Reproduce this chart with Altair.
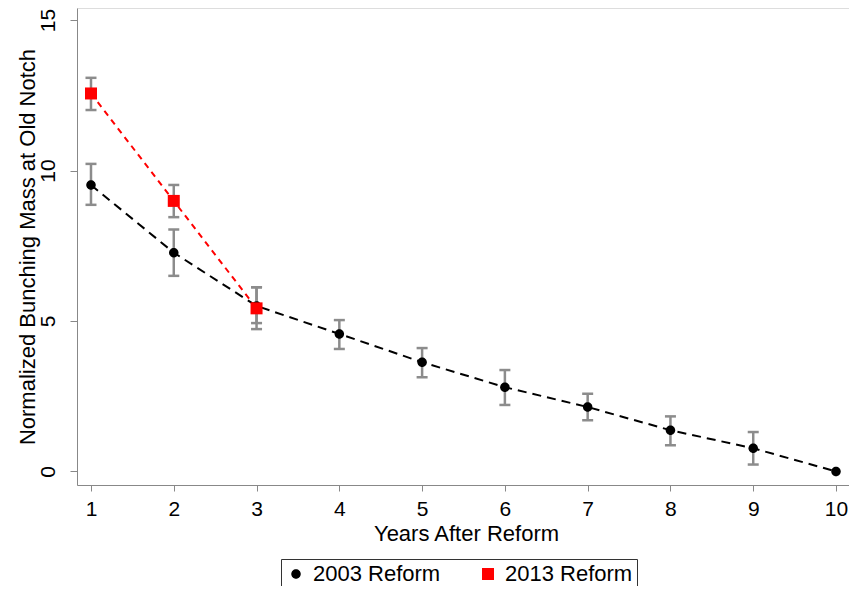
import altair as alt
import pandas as pd

# ---- data ----
years_2003 = [1, 2, 3, 4, 5, 6, 7, 8, 9, 10]
mass_2003 = [9.52, 7.27, 5.50, 4.57, 3.63, 2.80, 2.14, 1.37, 0.77, 0.00]
lo_2003 = [8.86, 6.50, 4.73, 4.07, 3.13, 2.21, 1.70, 0.87, 0.23, None]
hi_2003 = [10.22, 8.04, 6.12, 5.03, 4.10, 3.37, 2.58, 1.83, 1.31, None]

years_2013 = [1, 2, 3]
mass_2013 = [12.56, 8.99, 5.42]
lo_2013 = [12.01, 8.45, 4.93]
hi_2013 = [13.08, 9.52, 6.12]

series_names = ["2003 Reform", "2013 Reform"]
series_colors = ["#000000", "#ff0000"]
x_ticks = [1, 2, 3, 4, 5, 6, 7, 8, 9, 10]
y_ticks = [0, 5, 10, 15]

df03 = pd.DataFrame({"year": years_2003, "mass": mass_2003, "lo": lo_2003,
                     "hi": hi_2003, "series": series_names[0]})
df13 = pd.DataFrame({"year": years_2013, "mass": mass_2013, "lo": lo_2013,
                     "hi": hi_2013, "series": series_names[1]})
df = pd.concat([df03, df13], ignore_index=True)
ci = df.dropna(subset=["lo", "hi"])

FONT = "Liberation Sans"
xscale = alt.Scale(domain=[0.831, 10.157], nice=False, zero=False)
yscale = alt.Scale(domain=[-0.45, 15.40], nice=False, zero=False)

x_axis = alt.Axis(values=x_ticks, format="d", title="Years After Reform", grid=False,
                  labelFontSize=21, titleFontSize=22, tickSize=6, labelPadding=7,
                  titleX=389, titleY=55, titleAlign="center",
                  titleBaseline="alphabetic", titleFontWeight="normal")
y_axis = alt.Axis(values=y_ticks, format="d", title="Normalized Bunching Mass at Old Notch",
                  grid=False, labelFontSize=21, titleFontSize=22, tickSize=7, labelPadding=12,
                  labelAngle=270, labelAlign="center", labelBaseline="bottom",
                  titleAngle=270, titleX=-43, titleY=238.5, titleAlign="center",
                  titleBaseline="alphabetic", titleFontWeight="normal")


def X():
    return alt.X("year:Q", scale=xscale, axis=x_axis)


def Y(field):
    return alt.Y(f"{field}:Q", scale=yscale, axis=y_axis)


GREY = "#8c8c8c"
bars = alt.Chart(ci).mark_rule(color=GREY, strokeWidth=2.5).encode(
    x=X(), y=Y("lo"), y2="hi:Q")
cap_lo = alt.Chart(ci).mark_tick(color=GREY, orient="horizontal", size=11,
                                 thickness=2.5, opacity=1).encode(x=X(), y=Y("lo"))
cap_hi = alt.Chart(ci).mark_tick(color=GREY, orient="horizontal", size=11,
                                 thickness=2.5, opacity=1).encode(x=X(), y=Y("hi"))

line03 = alt.Chart(df03).mark_line(color="#000000", strokeWidth=2,
                                   strokeDash=[9, 6]).encode(x=X(), y=Y("mass"))
line13 = alt.Chart(df13).mark_line(color="#ff0000", strokeWidth=2,
                                   strokeDash=[6, 5]).encode(x=X(), y=Y("mass"))

circle_path = "M0,-0.75A0.75,0.75,0,1,1,0,0.75A0.75,0.75,0,1,1,0,-0.75Z"
leg = alt.Legend(title=None, orient="none", legendX=204, legendY=551,
                 direction="horizontal", columns=2, columnPadding=36,
                 labelFontSize=22, labelFont=FONT, labelColor="#000000",
                 symbolSize=121, symbolStrokeWidth=0, labelOffset=6,
                 padding=4, strokeColor="#333333", fillColor="#ffffff")
points = alt.Chart(df).mark_point(filled=True, opacity=1, strokeWidth=0).encode(
    x=X(), y=Y("mass"),
    color=alt.Color("series:N", scale=alt.Scale(domain=series_names, range=series_colors),
                    legend=leg),
    shape=alt.Shape("series:N", scale=alt.Scale(domain=series_names,
                                                range=[circle_path, "square"]),
                    legend=leg),
    size=alt.Size("series:N", scale=alt.Scale(domain=series_names, range=[160, 144]),
                  legend=None),
)

chart = alt.layer(bars, cap_lo, cap_hi, line03, line13, points).properties(
    width=772, height=477,
    autosize=alt.AutoSizeParams(type="none"),
    padding={"left": 69, "top": 0, "right": 0, "bottom": 101},
).configure_view(stroke="#222222", strokeWidth=2).configure_axis(
    grid=False, domainColor="#000000", domainWidth=2, tickColor="#000000",
    tickWidth=1.5, labelColor="#000000", titleColor="#000000",
    labelFont=FONT, titleFont=FONT,
).configure(background="#ffffff")

chart.save("out.html", embed_options={"renderer": "svg", "actions": False})
